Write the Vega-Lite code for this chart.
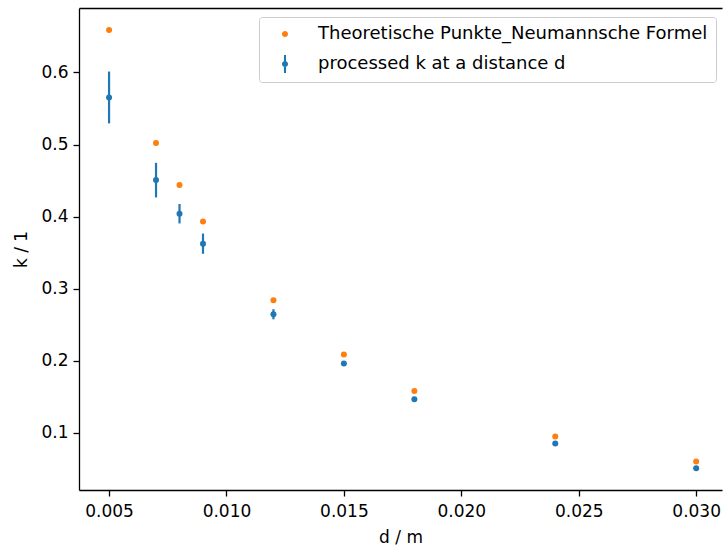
{
  "$schema": "https://vega.github.io/schema/vega-lite/v6.json",
  "width": 643,
  "height": 482,
  "autosize": "none",
  "padding": {"left": 79, "top": 8, "right": 1, "bottom": 56},
  "background": "white",
  "config": {
    "view": {"stroke": null},
    "font": "DejaVu Sans",
    "axis": {
      "labelFont": "DejaVu Sans",
      "titleFont": "DejaVu Sans",
      "labelFontSize": 17,
      "titleFontSize": 17,
      "titleFontWeight": "normal",
      "labelColor": "#000000",
      "titleColor": "#000000",
      "domainColor": "#000000",
      "domainWidth": 1.3,
      "tickColor": "#000000",
      "tickWidth": 1.3,
      "tickSize": 6,
      "grid": false
    }
  },
  "data": {
    "values": [
      {"d": 0.005, "k": 0.659, "series": "Theoretische Punkte_Neumannsche Formel"},
      {"d": 0.007, "k": 0.502, "series": "Theoretische Punkte_Neumannsche Formel"},
      {"d": 0.008, "k": 0.444, "series": "Theoretische Punkte_Neumannsche Formel"},
      {"d": 0.009, "k": 0.393, "series": "Theoretische Punkte_Neumannsche Formel"},
      {"d": 0.012, "k": 0.284, "series": "Theoretische Punkte_Neumannsche Formel"},
      {"d": 0.015, "k": 0.2085, "series": "Theoretische Punkte_Neumannsche Formel"},
      {"d": 0.018, "k": 0.158, "series": "Theoretische Punkte_Neumannsche Formel"},
      {"d": 0.024, "k": 0.0947, "series": "Theoretische Punkte_Neumannsche Formel"},
      {"d": 0.030, "k": 0.060, "series": "Theoretische Punkte_Neumannsche Formel"},
      {"d": 0.005, "k": 0.5653, "err": 0.036, "series": "processed k at a distance d"},
      {"d": 0.007, "k": 0.4506, "err": 0.024, "series": "processed k at a distance d"},
      {"d": 0.008, "k": 0.404, "err": 0.0135, "series": "processed k at a distance d"},
      {"d": 0.009, "k": 0.3624, "err": 0.014, "series": "processed k at a distance d"},
      {"d": 0.012, "k": 0.2644, "err": 0.007, "series": "processed k at a distance d"},
      {"d": 0.015, "k": 0.196, "err": 0.003, "series": "processed k at a distance d"},
      {"d": 0.018, "k": 0.1465, "err": 0.003, "series": "processed k at a distance d"},
      {"d": 0.024, "k": 0.085, "err": 0.002, "series": "processed k at a distance d"},
      {"d": 0.030, "k": 0.0508, "err": 0.002, "series": "processed k at a distance d"}
    ]
  },
  "resolve": {"axis": {"x": "independent"}},
  "layer": [
    {
      "transform": [{"filter": "datum.series === 'Theoretische Punkte_Neumannsche Formel'"}],
      "mark": {"type": "point", "filled": true, "opacity": 1, "size": 36},
      "encoding": {
        "x": {"field": "d", "type": "quantitative", "scale": {"domain": [0.00372, 0.0311], "nice": false, "zero": false},
              "axis": {"orient": "top", "labels": false, "ticks": false, "title": null, "domainWidth": 1.3}},
        "y": {"field": "k", "type": "quantitative", "title": "k / 1", "scale": {"domain": [0.0205, 0.6895], "nice": false, "zero": false},
              "axis": {"values": [0.1, 0.2, 0.3, 0.4, 0.5, 0.6], "format": ".1f", "title": "k / 1", "labelPadding": 5, "titlePadding": 10}},
        "color": {"field": "series", "type": "nominal",
          "scale": {"domain": ["Theoretische Punkte_Neumannsche Formel", "processed k at a distance d"], "range": ["#ff7f0e", "#1f77b4"]},
          "legend": {
            "title": null,
            "orient": "none",
            "legendX": 180,
            "legendY": 9,
            "direction": "vertical",
            "padding": 8,
            "strokeColor": "#cccccc",
            "fillColor": "rgba(255,255,255,0.8)",
            "cornerRadius": 3,
            "symbolSize": 196,
            "symbolOffset": 9,
            "symbolStrokeWidth": 0,
            "symbolType": {"expr": "datum.value === 'processed k at a distance d' ? 'M-0.15,-1.3 L0.15,-1.3 L0.15,1.3 L-0.15,1.3 Z M0.43,0 A0.43,0.43 0 1,1 -0.43,0 A0.43,0.43 0 1,1 0.43,0 Z' : 'M0.43,0 A0.43,0.43 0 1,1 -0.43,0 A0.43,0.43 0 1,1 0.43,0 Z'"},
            "labelOffset": 24,
            "rowPadding": 11,
            "labelFont": "DejaVu Sans",
            "labelFontSize": 18,
            "labelColor": "#000000",
            "labelLimit": 600
          }
        }
      }
    },
    {
      "transform": [{"filter": "datum.series === 'processed k at a distance d'"}],
      "mark": {"type": "errorbar", "color": "#1f77b4", "thickness": 2.2},
      "encoding": {
        "x": {"field": "d", "type": "quantitative",
              "axis": {"orient": "bottom", "values": [0.005, 0.01, 0.015, 0.02, 0.025, 0.03], "format": ".3f", "title": "d / m", "labelPadding": 7, "titlePadding": 10}},
        "y": {"field": "k", "type": "quantitative", "title": "k / 1"},
        "yError": {"field": "err"}
      }
    },
    {
      "transform": [{"filter": "datum.series === 'processed k at a distance d'"}],
      "mark": {"type": "point", "filled": true, "opacity": 1, "size": 36},
      "encoding": {
        "x": {"field": "d", "type": "quantitative", "axis": null},
        "y": {"field": "k", "type": "quantitative", "title": "k / 1"},
        "color": {"field": "series", "type": "nominal"}
      }
    }
  ]
}
